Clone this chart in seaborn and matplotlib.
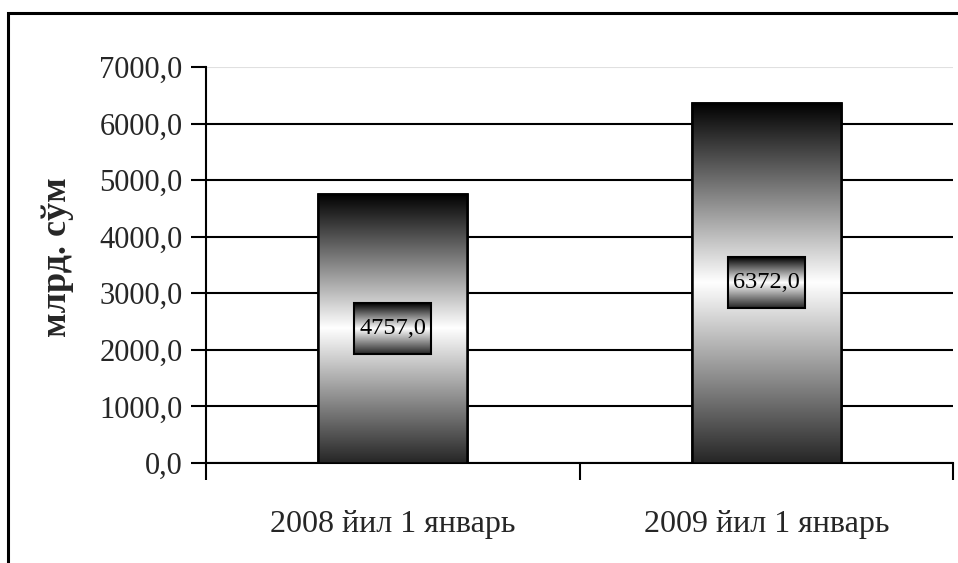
import matplotlib.pyplot as plt
import matplotlib.patches as mpatches
from matplotlib.colors import LinearSegmentedColormap
from matplotlib.ticker import FuncFormatter, FixedLocator
import numpy as np
import pandas as pd
import seaborn as sns

# Ma'lumotlar
categories = ['2008 йил 1 январь', '2009 йил 1 январь']
values = [4757.0, 6372.0]
y_label = 'млрд. сўм'

df = pd.DataFrame({'sana': categories, 'qiymat': values})

sns.set_style('white')
plt.rcParams['font.family'] = ['Liberation Serif', 'DejaVu Serif']

fig = plt.figure(figsize=(9.58, 5.63), dpi=100)
ax = fig.add_axes([206 / 958, 1 - 463 / 563, (953 - 206) / 958, (463 - 67) / 563])

sns.barplot(data=df, x='sana', y='qiymat', ax=ax, width=0.4,
            color='white', edgecolor='black', linewidth=1.8, zorder=3)

ax.set_ylim(0, 7000)
ax.set_xlim(-0.5, 1.5)
ax.set_yticks(np.arange(0, 7001, 1000))
ax.yaxis.set_major_formatter(FuncFormatter(lambda v, p: f'{v:.1f}'.replace('.', ',')))

# Gradient: pastda to'q, o'rtada oq, tepada qora
cmap = LinearSegmentedColormap.from_list(
    'g', [(0, '#262626'), (0.5, '#ffffff'), (1, '#000000')])
grad = np.linspace(0, 1, 256).reshape(-1, 1)

for patch in ax.patches:
    x0, y0 = patch.get_x(), patch.get_y()
    w, h = patch.get_width(), patch.get_height()
    im = ax.imshow(grad, cmap=cmap, origin='lower', aspect='auto',
                   extent=[x0, x0 + w, y0, y0 + h], zorder=3.5)
    im.set_clip_path(patch)
    edge = mpatches.Rectangle((x0, y0), w, h, fill=False, edgecolor='black',
                              linewidth=1.8, zorder=4)
    ax.add_patch(edge)

ax.set_xlim(-0.5, 1.5)
ax.set_ylim(0, 7000)

# Qiymat yorliqlari
texts = []
for i, v in enumerate(values):
    t = ax.text(i, v / 2, f'{v:.1f}'.replace('.', ','), ha='center', va='center',
                fontsize=17.5, color='black', zorder=7)
    texts.append(t)

fig.canvas.draw()
inv = ax.transData.inverted()
for t in texts:
    bb = t.get_window_extent()
    pad_x, pad_y = 5, 15
    (bx0, by0) = inv.transform((bb.x0 - pad_x, bb.y0 - pad_y))
    (bx1, by1) = inv.transform((bb.x1 + pad_x, bb.y1 + pad_y))
    ax.imshow(grad, cmap=cmap, origin='lower', aspect='auto',
              extent=[bx0, bx1, by0, by1], zorder=5)
    ax.add_patch(mpatches.Rectangle((bx0, by0), bx1 - bx0, by1 - by0, fill=False,
                                    edgecolor='black', linewidth=1.5, zorder=6))

ax.set_xlim(-0.5, 1.5)
ax.set_ylim(0, 7000)

# Setka
ax.grid(axis='y', color='black', linewidth=1.5, zorder=0)
ax.set_axisbelow(True)
ax.get_ygridlines()[-1].set_color('#e0e0e0')

for s in ['top', 'right']:
    ax.spines[s].set_visible(False)
ax.spines['left'].set_color('black')
ax.spines['left'].set_linewidth(1.5)
ax.spines['bottom'].set_color('black')
ax.spines['bottom'].set_linewidth(1.5)

ax.xaxis.set_minor_locator(FixedLocator([-0.5, 0.5, 1.5]))
ax.tick_params(axis='x', which='major', length=0, pad=34, labelsize=23)
ax.tick_params(axis='x', which='minor', bottom=True, length=12, width=1.5,
               color='black', direction='out')
ax.tick_params(axis='y', length=11, width=1.5, color='black', direction='out',
               labelsize=22, pad=6, left=True)

ax.set_xlabel('')
ax.set_ylabel(y_label, fontsize=26, fontweight='bold')
ax.yaxis.set_label_coords(-0.177, 0.52)

# Tashqi ramka
frame = mpatches.Rectangle((8 / 958, -0.1), 1.2, 1.1 - 13 / 563, transform=fig.transFigure,
                           fill=False, edgecolor='black', linewidth=2.2, clip_on=False)
fig.add_artist(frame)

fig.savefig('out.png', dpi=100)
